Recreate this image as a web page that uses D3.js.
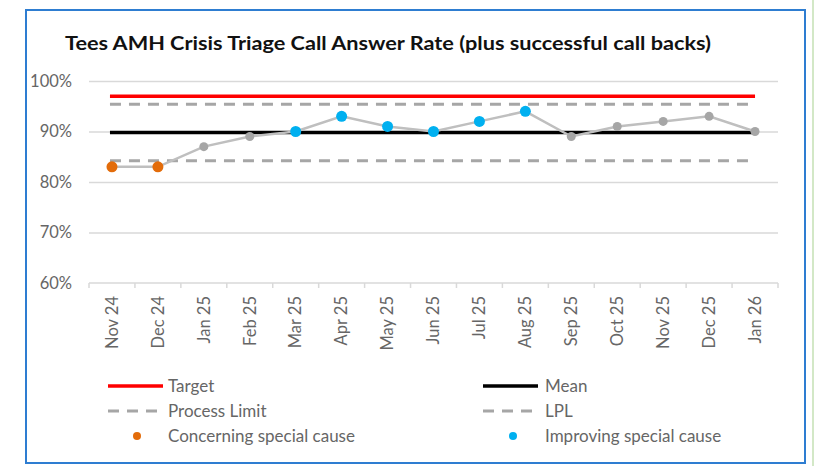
<!DOCTYPE html>
<html>
<head>
<meta charset="utf-8">
<script src="https://cdn.jsdelivr.net/npm/d3@7"></script>
<style>
  body { margin: 0; background: #fff; }
  text { font-family: Lato, "Open Sans", sans-serif; }
</style>
</head>
<body>
<div id="chart"></div>
<script>
//Chart values
const months = ["Nov 24", "Dec 24", "Jan 25", "Feb 25", "Mar 25", "Apr 25", "May 25", "Jun 25",
                "Jul 25", "Aug 25", "Sep 25", "Oct 25", "Nov 25", "Dec 25", "Jan 26"]
const answerRate = [83, 83, 87, 89, 90, 93, 91, 90, 92, 94, 89, 91, 92, 93, 90]
//"c" = concerning special cause, "i" = improving special cause, "" = common cause
const specialCause = ["c", "c", "", "", "i", "i", "i", "i", "i", "i", "", "", "", "", ""]
const targetValue = [97]
const meanValue = [89.8]
const upperLimit = [95.4]
const lowerLimit = [84.2]
const yTicks = [60, 70, 80, 90, 100]
const legendItems = ["Target", "Mean", "Process Limit", "LPL", "Concerning special cause", "Improving special cause"]

const width = 815
const height = 466
const margin = {top: 81, left: 89, right: 37, bottom: 183}

const svg = d3.select("#chart")
  .append("svg")
  .attr("width", width)
  .attr("height", height)

//Outer frame
svg.append("rect")
  .attr("x", 26).attr("y", 10)
  .attr("width", 779).attr("height", 453)
  .attr("fill", "#fff")
  .attr("stroke", "#2E7DD1")
  .attr("stroke-width", 2)

svg.append("line")
  .attr("x1", 813).attr("x2", 813)
  .attr("y1", 0).attr("y2", height)
  .attr("stroke", "#C5E0B4")
  .attr("stroke-width", 1.5)

//Title
svg.append("text")
  .attr("x", 65).attr("y", 50)
  .attr("font-size", 18)
  .attr("font-weight", "bold")
  .attr("fill", "#111")
  .attr("textLength", 646)
  .attr("lengthAdjust", "spacingAndGlyphs")
  .text("Tees AMH Crisis Triage Call Answer Rate (plus successful call backs)")

//Scales
const x = d3.scaleBand()
  .domain(months)
  .range([margin.left, width - margin.right])

const y = d3.scaleLinear()
  .domain([60, 100])
  .range([height - margin.bottom, margin.top])

const cx = function(m){ return x(m) + x.bandwidth() / 2 }

//Grid lines
svg.append("g")
  .attr("class", "grid")
  .attr("transform", "translate(" + margin.left + ",0)")
  .call(d3.axisLeft(y)
    .tickValues(yTicks.slice(1))
    .tickSize(-(width - margin.right - margin.left))
    .tickFormat(""))
  .call(g => g.select(".domain").remove())
  .call(g => g.selectAll("line").attr("stroke", "#D9D9D9").attr("stroke-width", 1.3))

//Y labels
svg.append("g")
  .attr("transform", "translate(72,0)")
  .call(d3.axisLeft(y)
    .tickValues(yTicks)
    .tickSize(0)
    .tickPadding(0)
    .tickFormat(d => d + "%"))
  .call(g => g.select(".domain").remove())
  .call(g => g.selectAll("text")
    .attr("font-family", "Lato, sans-serif")
    .attr("font-size", 16.5)
    .attr("fill", "#666"))

//X axis: line, boundary ticks and rotated labels
const baseY = y(60)
svg.append("line")
  .attr("x1", margin.left).attr("x2", width - margin.right)
  .attr("y1", baseY).attr("y2", baseY)
  .attr("stroke", "#D9D9D9").attr("stroke-width", 1.5)

const edges = months.map(m => x(m)).concat([x.range()[1]])
svg.selectAll(".xtick")
  .data(edges)
  .enter()
  .append("line")
  .attr("class", "xtick")
  .attr("x1", d => d).attr("x2", d => d)
  .attr("y1", baseY).attr("y2", baseY + 5)
  .attr("stroke", "#D9D9D9").attr("stroke-width", 1.5)

svg.append("g")
  .attr("transform", "translate(0," + baseY + ")")
  .call(d3.axisBottom(x).tickSize(0))
  .call(g => g.select(".domain").remove())
  .call(g => g.selectAll("text")
    .attr("font-family", "Lato, sans-serif")
    .attr("font-size", 16.5)
    .attr("fill", "#666")
    .attr("text-anchor", "end")
    .attr("transform", "rotate(-90)")
    .attr("x", -13)
    .attr("y", 0)
    .attr("dy", "0.35em"))

//Horizontal reference lines
const x0 = cx(months[0]) - 2
const x1 = cx(months[months.length - 1])

function refLine(value, color, dash, w) {
  svg.append("line")
    .attr("x1", x0).attr("x2", x1)
    .attr("y1", y(value)).attr("y2", y(value))
    .attr("stroke", color)
    .attr("stroke-width", w)
    .attr("stroke-dasharray", dash)
}
refLine(meanValue[0], "#000", null, 3.5)
refLine(lowerLimit[0], "#A6A6A6", "11,8", 3)
refLine(upperLimit[0], "#A6A6A6", "11,8", 3)
refLine(targetValue[0], "#FF0000", null, 3.5)

//Data line
const data = months.map((m, i) => ({month: m, value: answerRate[i], cause: specialCause[i]}))

svg.append("path")
  .datum(data)
  .attr("fill", "none")
  .attr("stroke", "#BFBFBF")
  .attr("stroke-width", 2.5)
  .attr("d", d3.line().x(d => cx(d.month)).y(d => y(d.value)))

const causeColor = {"c": "#E36C0A", "i": "#00B0F0", "": "#A6A6A6"}

svg.selectAll(".point")
  .data(data)
  .enter()
  .append("circle")
  .attr("class", "point")
  .attr("cx", d => cx(d.month))
  .attr("cy", d => y(d.value))
  .attr("r", d => d.cause == "" ? 4.5 : 5.5)
  .attr("fill", d => causeColor[d.cause])

//Legend
const legendRows = [386, 411, 436]
const legendCols = [{sym: 108, txt: 168}, {sym: 483, txt: 545}]

function legendText(col, row, label) {
  svg.append("text")
    .attr("x", legendCols[col].txt)
    .attr("y", legendRows[row])
    .attr("dy", "0.35em")
    .attr("font-size", 17)
    .attr("fill", "#666")
    .text(label)
}

function legendLine(col, row, color, dash, w) {
  svg.append("line")
    .attr("x1", legendCols[col].sym).attr("x2", legendCols[col].sym + 55)
    .attr("y1", legendRows[row]).attr("y2", legendRows[row])
    .attr("stroke", color)
    .attr("stroke-width", w)
    .attr("stroke-dasharray", dash)
}

legendLine(0, 0, "#FF0000", null, 3.5)
legendText(0, 0, legendItems[0])
legendLine(1, 0, "#000", null, 3.5)
legendText(1, 0, legendItems[1])
legendLine(0, 1, "#A6A6A6", "11,8", 3)
legendText(0, 1, legendItems[2])
legendLine(1, 1, "#A6A6A6", "11,8", 3)
legendText(1, 1, legendItems[3])

svg.append("circle")
  .attr("cx", 137).attr("cy", legendRows[2]).attr("r", 4)
  .attr("fill", causeColor["c"])
legendText(0, 2, legendItems[4])
svg.append("circle")
  .attr("cx", 513).attr("cy", legendRows[2]).attr("r", 4)
  .attr("fill", causeColor["i"])
legendText(1, 2, legendItems[5])
</script>
</body>
</html>
